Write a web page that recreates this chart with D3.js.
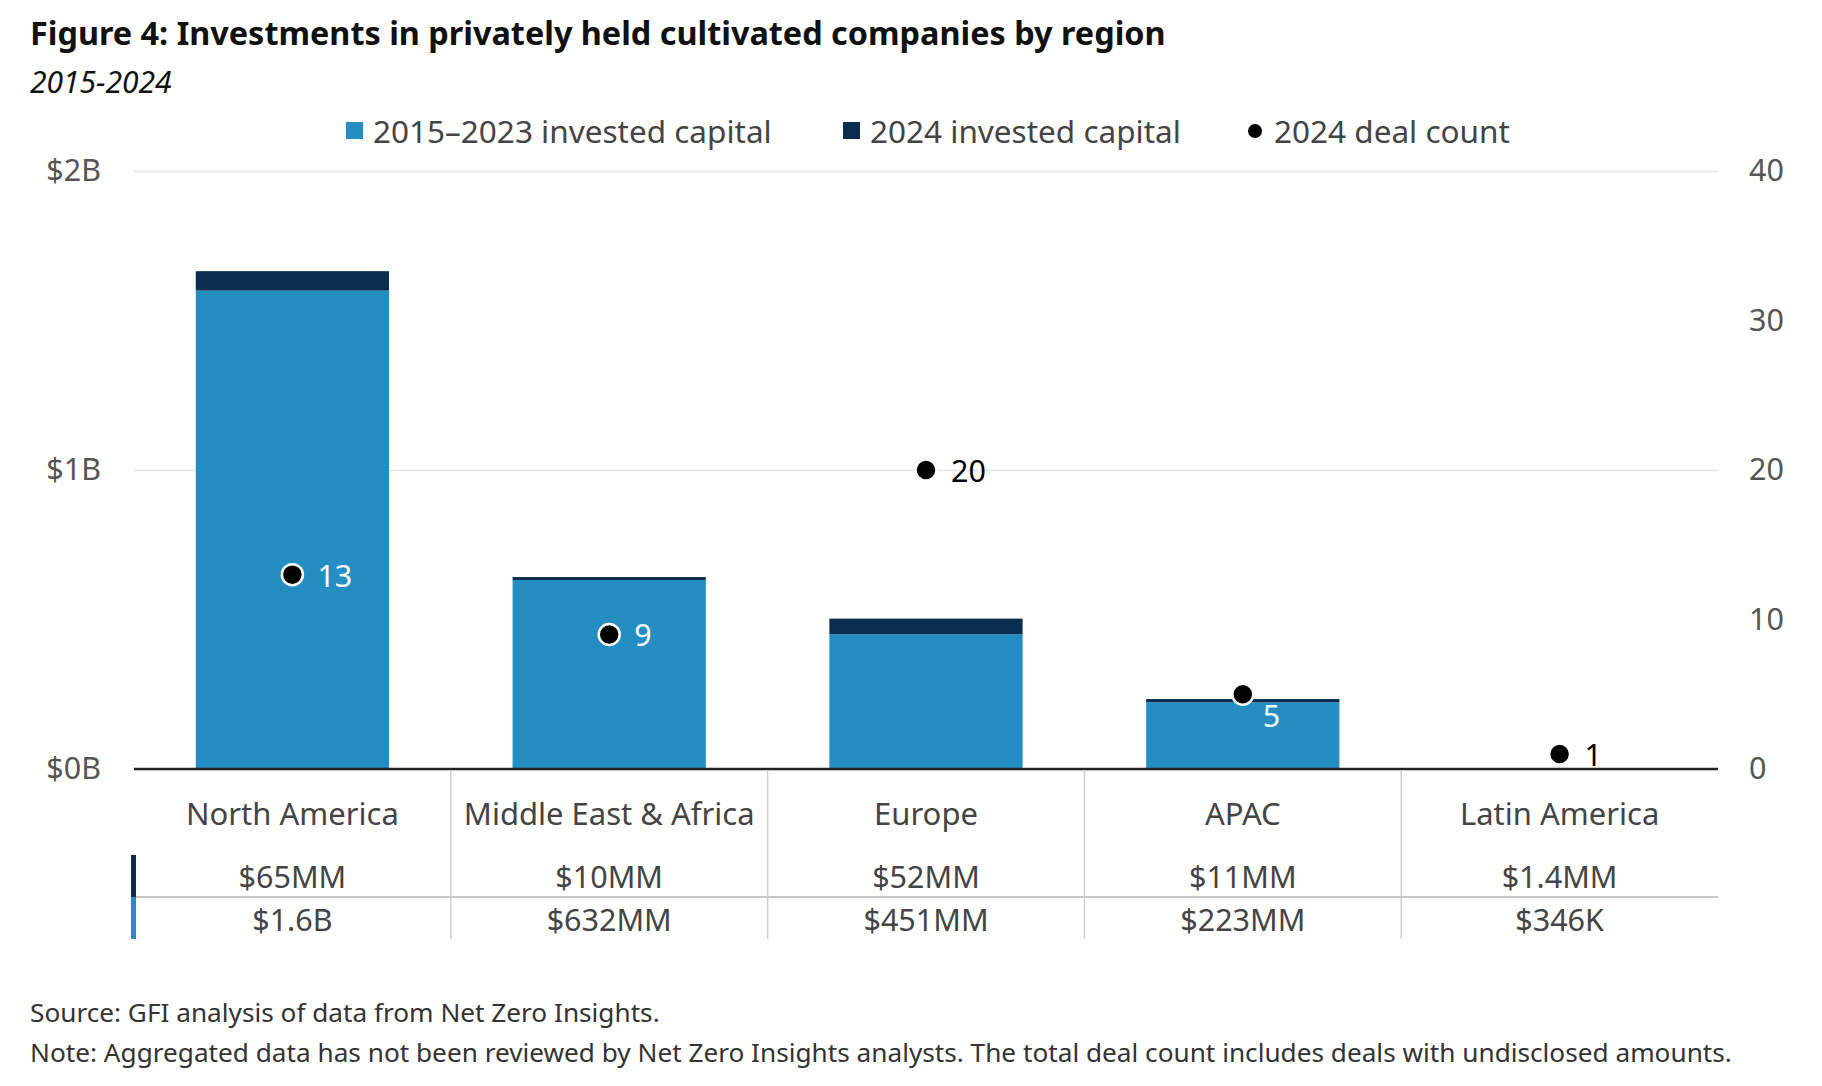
<!DOCTYPE html>
<html>
<head>
<meta charset="utf-8">
<script src="https://cdn.jsdelivr.net/npm/d3@7"></script>
<style>
  body { margin: 0; background: #fff; }
  svg text { font-family: "Noto Sans", "Open Sans", sans-serif; }
</style>
</head>
<body>
<div class="visualizer"></div>
<script>
// Data
const regions = ["North America", "Middle East & Africa", "Europe", "APAC", "Latin America"];
const capital2015to2023 = [1.6e9, 632e6, 451e6, 223e6, 346e3];
const capital2024 = [65e6, 10e6, 52e6, 11e6, 1.4e6];
const dealCount2024 = [13, 9, 20, 5, 1];
const label2015to2023 = ["$1.6B", "$632MM", "$451MM", "$223MM", "$346K"];
const label2024 = ["$65MM", "$10MM", "$52MM", "$11MM", "$1.4MM"];
const leftTicks = [0, 1e9, 2e9];
const rightTicks = [0, 10, 20, 30, 40];

function onDOMContentLoaded() {
    const width = 1822, height = 1086;
    const left = 134, right = 1718, top = 171, bottom = 769;
    const lightBlue = "#248dc1", darkBlue = "#0a2d50";

    const svg = d3.select(".visualizer")
        .append("svg")
        .attr("width", width)
        .attr("height", height);

    // title
    svg.append("text")
        .attr("x", 30).attr("y", 45)
        .attr("font-size", 32.4).attr("font-weight", 700).attr("fill", "#111")
        .text("Figure 4: Investments in privately held cultivated companies by region");
    svg.append("text")
        .attr("x", 30).attr("y", 93)
        .attr("font-size", 30).attr("font-style", "italic").attr("fill", "#111")
        .text("2015-2024");

    // legend
    const legend = svg.append("g").attr("font-size", 31.5).attr("fill", "#444");
    legend.append("rect").attr("x", 346).attr("y", 122).attr("width", 17).attr("height", 17).attr("fill", lightBlue);
    legend.append("text").attr("x", 373).attr("y", 130).attr("dominant-baseline", "central").text("2015\u20132023 invested capital");
    legend.append("rect").attr("x", 843).attr("y", 122).attr("width", 17).attr("height", 17).attr("fill", darkBlue);
    legend.append("text").attr("x", 870).attr("y", 130).attr("dominant-baseline", "central").text("2024 invested capital");
    legend.append("circle").attr("cx", 1255).attr("cy", 131).attr("r", 7).attr("fill", "#000");
    legend.append("text").attr("x", 1274).attr("y", 130).attr("dominant-baseline", "central").text("2024 deal count");

    // scales
    const xScale = d3.scaleBand()
        .domain(regions)
        .range([left, right])
        .paddingInner(0.39)
        .paddingOuter(0.195);
    const yScale = d3.scaleLinear().domain([0, 2e9]).range([bottom, top]);
    const countScale = d3.scaleLinear().domain([0, 40]).range([bottom, top]);

    // left axis + grid
    const yAxis = d3.axisLeft(yScale)
        .tickValues(leftTicks)
        .tickFormat(d => `$${d / 1e9}B`)
        .tickSize(-(right - left))
        .tickPadding(33);
    const gy = svg.append("g")
        .attr("transform", `translate(${left}, 0)`)
        .call(yAxis);
    gy.select(".domain").remove();
    gy.selectAll(".tick line").attr("stroke", "#e6e6e6").attr("stroke-width", 1.5);
    gy.selectAll(".tick text").attr("font-size", 30.5).attr("fill", "#555");

    // right axis
    const countAxis = d3.axisRight(countScale)
        .tickValues(rightTicks)
        .tickSize(0)
        .tickPadding(31);
    const gr = svg.append("g")
        .attr("transform", `translate(${right}, 0)`)
        .call(countAxis);
    gr.select(".domain").remove();
    gr.selectAll(".tick text").attr("font-size", 30.5).attr("fill", "#555");

    // stacked bars
    const table = regions.map((region, i) => ({
        region: region,
        past: capital2015to2023[i],
        recent: capital2024[i]
    }));
    const series = d3.stack().keys(["past", "recent"])(table);
    const colors = { past: lightBlue, recent: darkBlue };

    svg.append("g")
        .selectAll("g")
        .data(series)
        .enter()
        .append("g")
        .attr("fill", s => colors[s.key])
        .selectAll("rect")
        .data(s => s)
        .enter()
        .append("rect")
        .attr("x", d => xScale(d.data.region))
        .attr("width", xScale.bandwidth())
        .attr("y", d => yScale(d[1]))
        .attr("height", d => yScale(d[0]) - yScale(d[1]));

    // baseline
    svg.append("line")
        .attr("x1", left).attr("x2", right)
        .attr("y1", yScale(0)).attr("y2", yScale(0))
        .attr("stroke", "#222").attr("stroke-width", 2.5);

    // deal count dots
    const dots = svg.append("g");
    regions.forEach((region, i) => {
        const cx = xScale(region) + xScale.bandwidth() / 2;
        const cy = countScale(dealCount2024[i]);
        const barTop = yScale(capital2015to2023[i] + capital2024[i]);
        const tallBar = yScale(0) - barTop > 40;
        const nearTop = tallBar && Math.abs(cy - barTop) < 20;
        const inside = tallBar && (cy > barTop || nearTop);
        dots.append("circle")
            .attr("cx", cx).attr("cy", cy).attr("r", 10.5)
            .attr("fill", "#000")
            .attr("stroke", "#fff").attr("stroke-width", 2.5);
        dots.append("text")
            .attr("x", cx + (nearTop ? 20 : 25))
            .attr("y", cy + (nearTop ? 21 : 0))
            .attr("dominant-baseline", "central")
            .attr("font-size", 30.5)
            .attr("fill", inside ? "#fff" : "#000")
            .text(dealCount2024[i]);
    });

    // table under the chart
    const tbl = svg.append("g");
    const rowTop = 855, rowLine = 897, tableBottom = 939;
    tbl.append("line")
        .attr("x1", left).attr("x2", right)
        .attr("y1", rowLine).attr("y2", rowLine)
        .attr("stroke", "#c8c8c8").attr("stroke-width", 2);
    regions.slice(1).forEach(region => {
        const sx = xScale(region) - xScale.step() * xScale.paddingInner() / 2;
        tbl.append("line")
            .attr("x1", sx).attr("x2", sx)
            .attr("y1", bottom + 1).attr("y2", tableBottom)
            .attr("stroke", "#cfcfcf").attr("stroke-width", 1.5);
    });
    tbl.append("rect").attr("x", 131).attr("y", rowTop).attr("width", 5).attr("height", rowLine - rowTop).attr("fill", darkBlue);
    tbl.append("rect").attr("x", 131).attr("y", rowLine).attr("width", 5).attr("height", tableBottom - rowLine).attr("fill", lightBlue);

    regions.forEach((region, i) => {
        const cx = xScale(region) + xScale.bandwidth() / 2;
        tbl.append("text")
            .attr("x", cx).attr("y", 813)
            .attr("text-anchor", "middle").attr("dominant-baseline", "central")
            .attr("font-size", 31).attr("fill", "#444")
            .text(region);
        tbl.append("text")
            .attr("x", cx).attr("y", 876)
            .attr("text-anchor", "middle").attr("dominant-baseline", "central")
            .attr("font-size", 30.5).attr("fill", "#444")
            .text(label2024[i]);
        tbl.append("text")
            .attr("x", cx).attr("y", 919)
            .attr("text-anchor", "middle").attr("dominant-baseline", "central")
            .attr("font-size", 30.5).attr("fill", "#444")
            .text(label2015to2023[i]);
    });

    // footnotes
    svg.append("text")
        .attr("x", 30).attr("y", 1012)
        .attr("dominant-baseline", "central")
        .attr("font-size", 26.2).attr("fill", "#333")
        .text("Source: GFI analysis of data from Net Zero Insights.");
    svg.append("text")
        .attr("x", 30).attr("y", 1052)
        .attr("dominant-baseline", "central")
        .attr("font-size", 26.2).attr("fill", "#333")
        .text("Note: Aggregated data has not been reviewed by Net Zero Insights analysts. The total deal count includes deals with undisclosed amounts.");
}

document.addEventListener("DOMContentLoaded", onDOMContentLoaded);
</script>
</body>
</html>
